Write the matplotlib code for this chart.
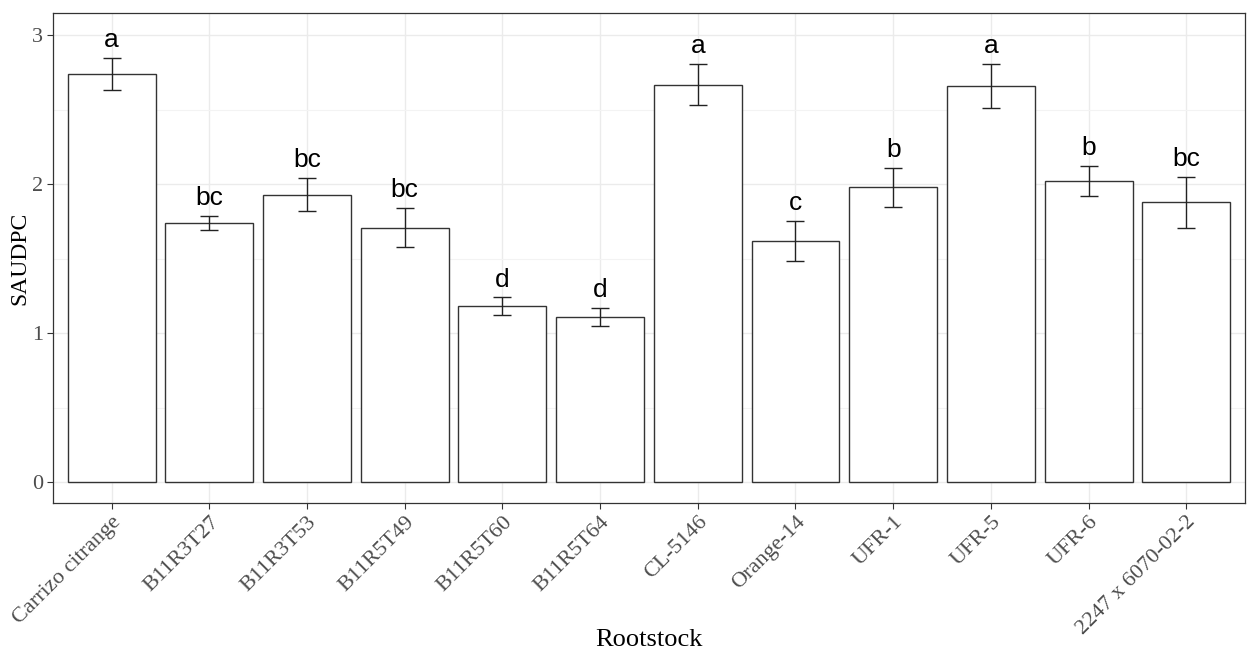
import matplotlib
matplotlib.use("Agg")
import matplotlib.pyplot as plt
from matplotlib.ticker import MultipleLocator
import numpy as np

rootstocks = ["Carrizo citrange", "B11R3T27", "B11R3T53", "B11R5T49", "B11R5T60",
              "B11R5T64", "CL-5146", "Orange-14", "UFR-1", "UFR-5", "UFR-6",
              "2247 x 6070-02-2"]
saudpc = [2.74, 1.74, 1.93, 1.71, 1.18, 1.11, 2.67, 1.62, 1.98, 2.66, 2.02, 1.88]
se = [0.11, 0.05, 0.11, 0.13, 0.06, 0.06, 0.14, 0.135, 0.13, 0.15, 0.10, 0.17]
letters = ["a", "bc", "bc", "bc", "d", "d", "a", "c", "b", "a", "b", "bc"]

fig = plt.figure(figsize=(12.48, 6.53), dpi=100)
ax = fig.add_axes([0.0425, 0.2297, 0.955, 0.7503])

x = np.arange(1, len(rootstocks) + 1)
ax.bar(x, saudpc, width=0.9, color="white", edgecolor="#333333", linewidth=1.0, zorder=2)
ax.errorbar(x, saudpc, yerr=se, fmt="none", ecolor="#222222", elinewidth=1.0,
            capsize=6.5, capthick=1.0, zorder=3)
for xi, m, s, l in zip(x, saudpc, se, letters):
    ax.text(xi, m + s + 0.04, l, ha="center", va="bottom", fontsize=19,
            family="Liberation Sans", color="black", zorder=4)

ax.set_xlim(0.4, 12.6)
ax.set_ylim(-0.14, 3.15)
ax.set_xticks(x)
ax.set_xticklabels(rootstocks, rotation=45, ha="right", rotation_mode="anchor",
                   family="Liberation Serif", fontsize=16, color="#4D4D4D")
ax.set_yticks([0, 1, 2, 3])
ax.set_yticklabels(["0", "1", "2", "3"], family="Liberation Serif", fontsize=16, color="#4D4D4D")
ax.yaxis.set_minor_locator(MultipleLocator(0.5))
ax.tick_params(axis="both", which="major", length=4, width=0.8, color="#333333", pad=3)
ax.tick_params(axis="y", which="minor", length=0)

ax.grid(True, which="major", color="#EBEBEB", linewidth=1.0, zorder=0)
ax.grid(True, which="minor", axis="y", color="#F3F3F3", linewidth=0.8, zorder=0)
ax.set_axisbelow(True)
for sp in ax.spines.values():
    sp.set_color("#333333")
    sp.set_linewidth(0.9)

ax.set_xlabel("Rootstock", family="Liberation Serif", fontsize=19, color="black")
ax.xaxis.set_label_coords(0.5, (640 - 503) / -490.0, transform=ax.transAxes)
ax.xaxis.label.set_va("center")
ax.set_ylabel("SAUDPC", family="Liberation Serif", fontsize=17, color="black", labelpad=1)

fig.savefig("out.png", dpi=100, facecolor="white")
